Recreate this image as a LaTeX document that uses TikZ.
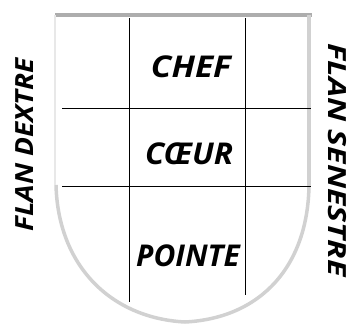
\documentclass[tikz,border=0pt]{standalone}
\usepackage{fontspec}
\setsansfont{Open Sans}
\usetikzlibrary{positioning}
\newcommand{\elargi}[2]{\scalebox{#1}[1]{#2}}
\tikzset{
  partie/.style={font=\sffamily\bfseries\itshape\fontsize{30}{30}\selectfont, inner sep=0pt},
  flan/.style={font=\sffamily\bfseries\itshape\fontsize{25}{25}\selectfont, inner sep=0pt},
  trait/.style={black, line width=0.9pt},
  bordhaut/.style={line width=3.5pt, draw=black!32},
  bord/.style={line width=3.5pt, draw=black!18},
}
\begin{document}
\begin{tikzpicture}[x=1pt, y=1pt]
  \useasboundingbox (0,0) rectangle (352,-330);
  % l'ecu
  \draw[bordhaut] (55,-15) -- (312,-15);
  \draw[bord, draw=black!9, line width=2pt] (55,-15) -- (55,-185);
  \draw[bord, line width=4pt] (309,-15) -- (309,-185);
  \draw[bord] (56,-185) .. controls (58,-265) and (110,-318) .. (185,-322);
  \draw[bord] (309,-185) .. controls (308,-265) and (262,-318) .. (185,-322);
  % les partitions
  \draw[trait] (129,-18) -- (129,-302);
  \draw[trait] (245,-18) -- (245,-295);
  \draw[trait] (62,-108) -- (311,-108);
  \draw[trait] (62,-186) -- (311,-186);
  % les parties
  \node (chef)[partie] at (191,-67) {\elargi{1.12}{CHEF}};
  \node (coeur)[partie] at (189,-154) {\elargi{1.05}{CŒUR}};
  \node (pointe)[partie] at (188,-256) {POINTE};
  \node (dextre)[flan, rotate=90] at (25,-145) {\elargi{1.12}{FLAN DEXTRE}};
  \node (senestre)[flan, rotate=-90] at (337,-160) {\elargi{1.28}{FLAN SENESTRE}};
\end{tikzpicture}
\end{document}
